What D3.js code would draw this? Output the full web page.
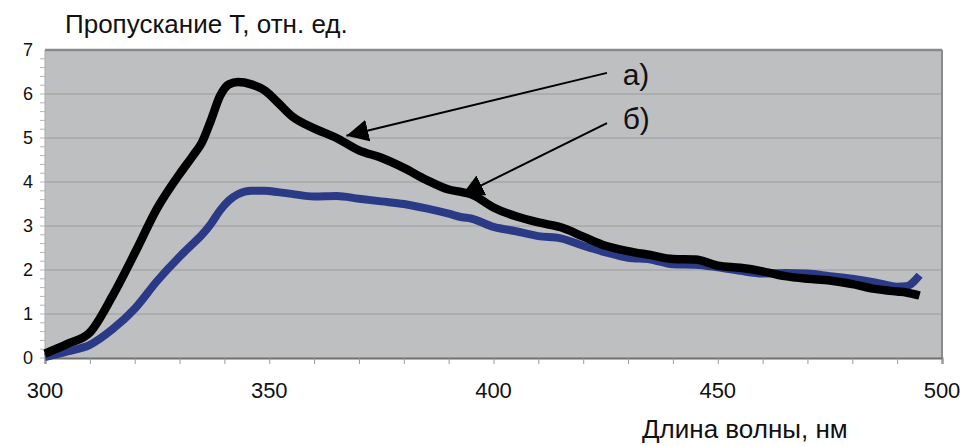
<!DOCTYPE html>
<html>
<head>
<meta charset="utf-8">
<script src="https://cdn.jsdelivr.net/npm/d3@7"></script>
<style>
  body { margin: 0; background: #fff; }
  text { font-family: "Liberation Sans", Arial, sans-serif; fill: #111; }
</style>
</head>
<body>
<figure id="chart" style="margin:0"></figure>
<script>
// wavelengths, nm
const wavelength = [300, 305, 310, 315, 320, 325, 330, 333, 335, 337, 339, 341, 343, 346, 349, 352, 355,
  360, 365, 370, 375, 380, 385, 390, 393, 395, 400, 405, 410, 415, 420, 425, 430, 435, 440,
  445, 450, 455, 460, 465, 470, 475, 480, 485, 490, 492, 495];

// curve a) (black)
const seriesA = [0.10, 0.32, 0.58, 1.40, 2.38, 3.40, 4.18, 4.60, 4.90, 5.40, 5.95, 6.22, 6.27, 6.22, 6.08, 5.80, 5.50,
  5.22, 5.00, 4.72, 4.55, 4.32, 4.05, 3.83, 3.77, 3.72, 3.42, 3.22, 3.08, 2.97, 2.76, 2.55, 2.43, 2.34, 2.25,
  2.24, 2.10, 2.05, 1.97, 1.86, 1.80, 1.76, 1.68, 1.57, 1.51, 1.49, 1.42];

// curve б) (blue)
const seriesB = [0.02, 0.15, 0.30, 0.65, 1.12, 1.75, 2.30, 2.60, 2.80, 3.05, 3.35, 3.58, 3.72, 3.80, 3.80, 3.77, 3.73,
  3.67, 3.68, 3.62, 3.56, 3.50, 3.40, 3.28, 3.20, 3.17, 2.98, 2.88, 2.77, 2.72, 2.55, 2.40, 2.28, 2.24, 2.13,
  2.12, 2.06, 1.98, 1.92, 1.93, 1.92, 1.86, 1.80, 1.72, 1.62, 1.63, 1.88];

const xTicks = [300, 350, 400, 450, 500];
const yTicks = [0, 1, 2, 3, 4, 5, 6, 7];

// arrow annotations in data units: label pos, line start, arrow tip
const notes = [
  { label: "а)", lx: 428.8, ly: 6.45, sx: 425.3, sy: 6.48, tx: 367.2, ty: 5.05 },
  { label: "б)", lx: 428.8, ly: 5.45, sx: 425.3, sy: 5.34, tx: 392.9, ty: 3.70 }
];

const W = 967, H = 446;
const mLeft = 45, mRight = 942, mTop = 50, mBottom = 358;

const svg = d3.select("#chart").append("svg")
  .attr("width", W).attr("height", H);

const x = d3.scaleLinear().domain([300, 500]).range([mLeft, mRight]);
const y = d3.scaleLinear().domain([0, 7]).range([mBottom, mTop]);

// plot background
svg.append("rect")
  .attr("x", mLeft).attr("y", mTop)
  .attr("width", mRight - mLeft).attr("height", mBottom - mTop)
  .attr("fill", "#bebfc1");

// horizontal grid
svg.append("g").selectAll("line")
  .data(yTicks.slice(1, -1))
  .enter().append("line")
  .attr("x1", mLeft).attr("x2", mRight)
  .attr("y1", d => y(d)).attr("y2", d => y(d))
  .attr("stroke", "#9a9b9d").attr("stroke-width", 1.2);

// frame
svg.append("line").attr("x1", mLeft).attr("x2", mRight).attr("y1", mTop).attr("y2", mTop)
  .attr("stroke", "#8a8a8a").attr("stroke-width", 2.5);
svg.append("line").attr("x1", mRight).attr("x2", mRight).attr("y1", mTop).attr("y2", mBottom)
  .attr("stroke", "#8a8a8a").attr("stroke-width", 2);
svg.append("line").attr("x1", mLeft).attr("x2", mLeft).attr("y1", mTop).attr("y2", mBottom)
  .attr("stroke", "#a9aaac").attr("stroke-width", 1);

// y axis minor ticks every 0.2
const yMinor = d3.range(0, 35).map(i => i * 0.2);
svg.append("g").selectAll("line")
  .data(yMinor)
  .enter().append("line")
  .attr("x1", mLeft - 5).attr("x2", mLeft)
  .attr("y1", d => y(d)).attr("y2", d => y(d))
  .attr("stroke", "#b5b5b5").attr("stroke-width", 1);

// x axis with ticks every 10 nm
const xAxis = svg.append("g")
  .attr("transform", "translate(0," + mBottom + ")")
  .call(d3.axisBottom(x).tickValues(d3.range(300, 501, 10)).tickSize(6).tickFormat(""));
xAxis.select(".domain").attr("stroke", "#6f6f70").attr("stroke-width", 2);
xAxis.selectAll(".tick line").attr("stroke", "#9a9a9a");

// x tick labels
svg.append("g").selectAll("text")
  .data(xTicks)
  .enter().append("text")
  .attr("x", d => x(d)).attr("y", 398)
  .attr("text-anchor", "middle")
  .style("font-size", "22px")
  .text(d => d);

// y tick labels
svg.append("g").selectAll("text")
  .data(yTicks)
  .enter().append("text")
  .attr("x", 33).attr("y", d => y(d) + 6)
  .attr("text-anchor", "end")
  .style("font-size", "18px")
  .text(d => d);

// curves
const line = d3.line()
  .x((d, i) => x(wavelength[i]))
  .y(d => y(d))
  .curve(d3.curveMonotoneX);

svg.append("path").datum(seriesB)
  .attr("d", line)
  .attr("fill", "none").attr("stroke", "#2b3a86").attr("stroke-width", 8)
  .attr("stroke-linejoin", "round");

svg.append("path").datum(seriesA)
  .attr("d", line)
  .attr("fill", "none").attr("stroke", "#000").attr("stroke-width", 8.5)
  .attr("stroke-linejoin", "round");

// arrows
svg.append("defs").append("marker")
  .attr("id", "head")
  .attr("viewBox", "0 0 10 10")
  .attr("refX", 10).attr("refY", 5)
  .attr("markerUnits", "userSpaceOnUse")
  .attr("markerWidth", 22).attr("markerHeight", 22)
  .attr("orient", "auto")
  .append("path").attr("d", "M0,0 L10,5 L0,10 Z").attr("fill", "#000");

svg.append("g").selectAll("line")
  .data(notes)
  .enter().append("line")
  .attr("x1", d => x(d.sx)).attr("y1", d => y(d.sy))
  .attr("x2", d => x(d.tx)).attr("y2", d => y(d.ty))
  .attr("stroke", "#000").attr("stroke-width", 2)
  .attr("marker-end", "url(#head)");

svg.append("g").selectAll("text")
  .data(notes)
  .enter().append("text")
  .attr("x", d => x(d.lx)).attr("y", d => y(d.ly) + 11)
  .style("font-size", "30px")
  .text(d => d.label);

// titles
svg.append("text")
  .attr("x", 65).attr("y", 33)
  .style("font-size", "26px")
  .text("Пропускание Т, отн. ед.");

svg.append("text")
  .attr("x", 642).attr("y", 438)
  .style("font-size", "26px")
  .text("Длина волны, нм");
</script>
</body>
</html>
